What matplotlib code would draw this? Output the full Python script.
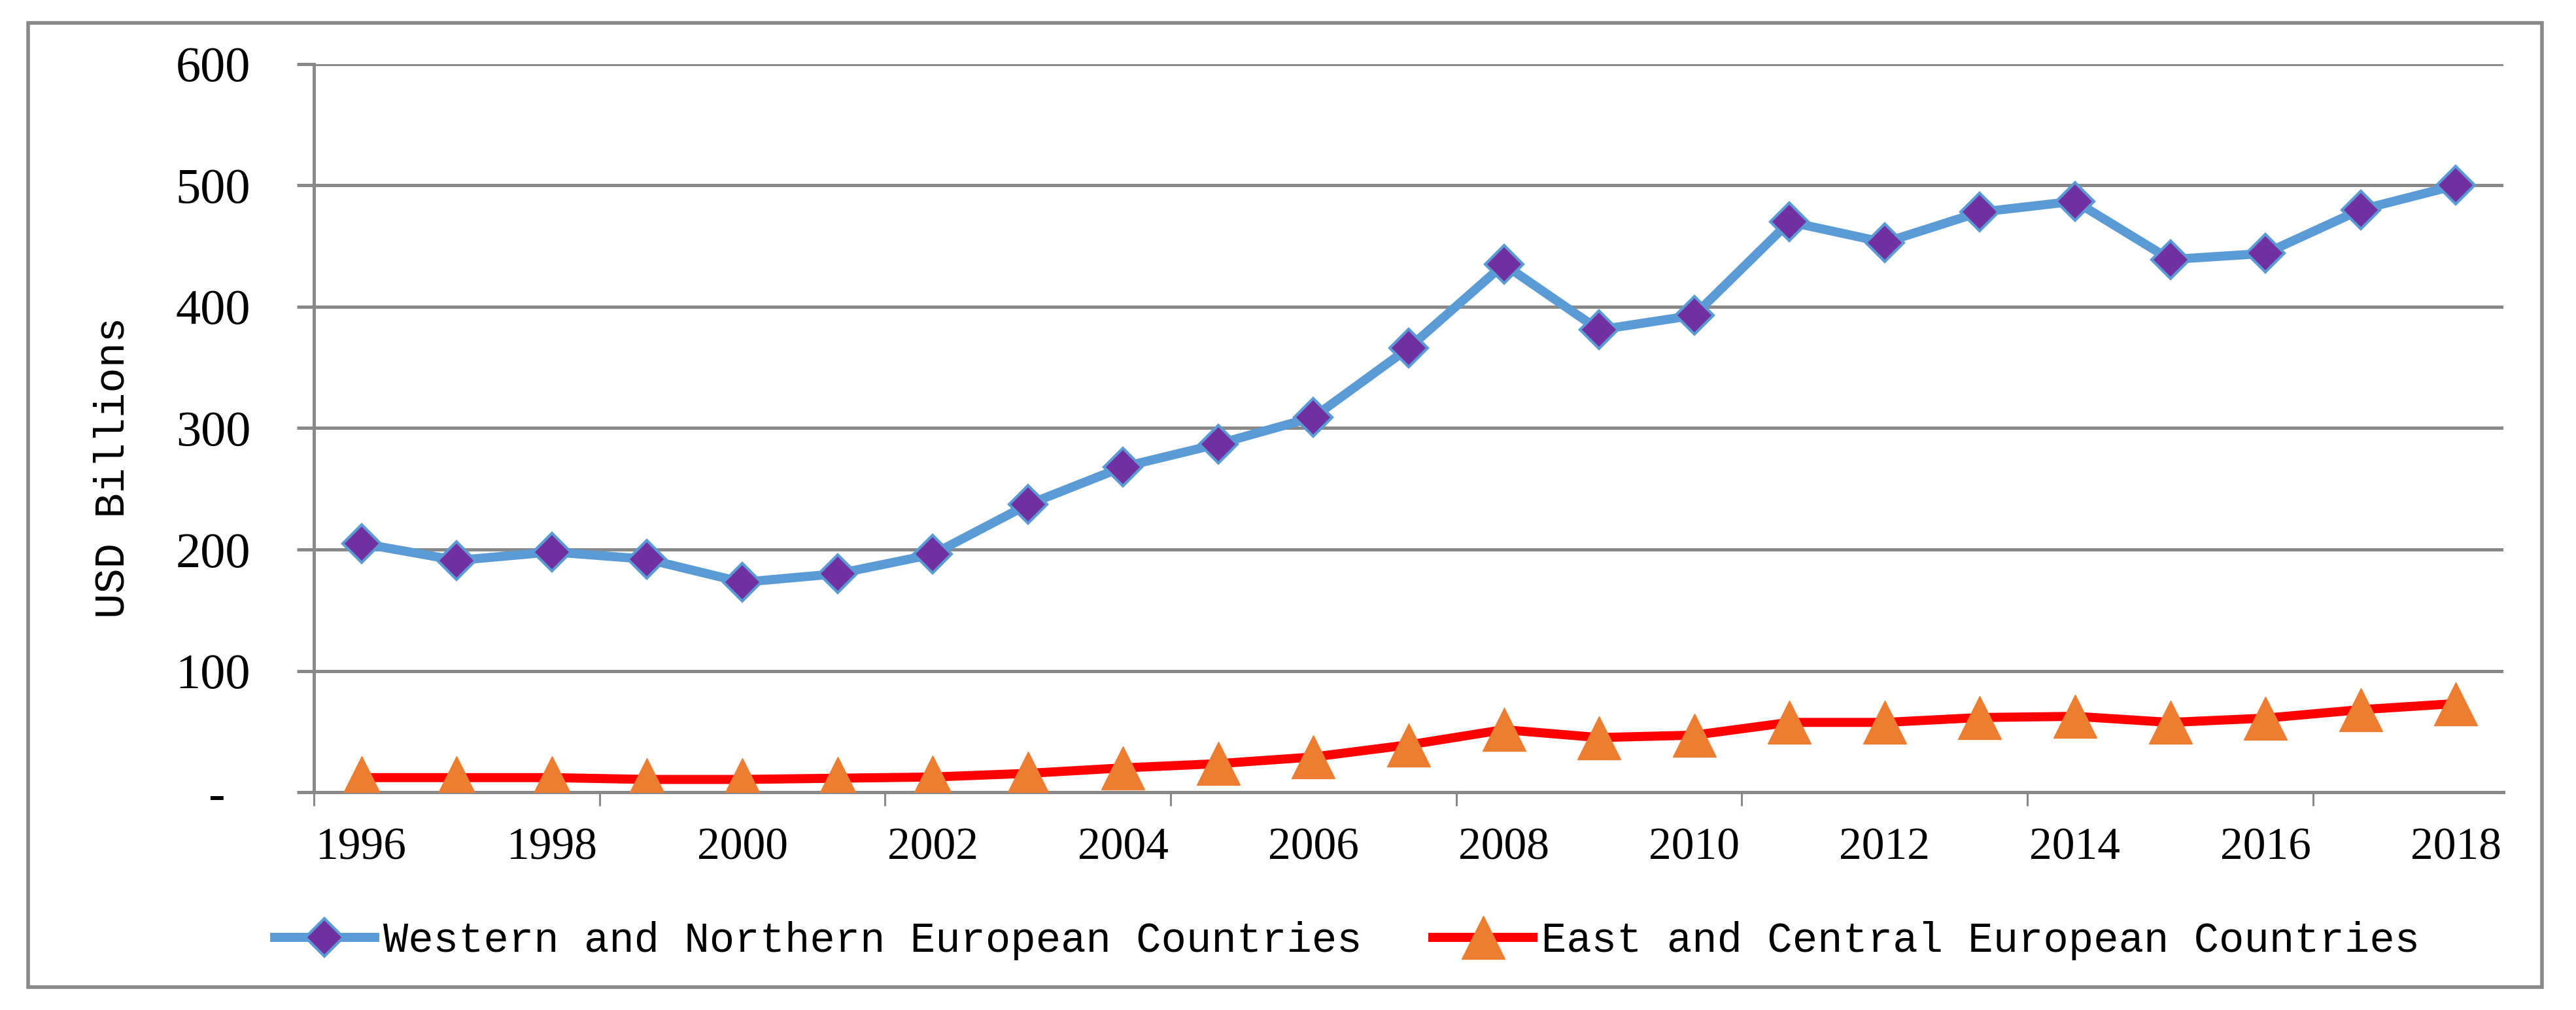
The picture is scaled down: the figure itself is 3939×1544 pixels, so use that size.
import matplotlib
matplotlib.use('Agg')
import matplotlib.pyplot as plt
from matplotlib.patches import Rectangle
from matplotlib.ticker import FixedLocator

years = [str(y) for y in range(1996, 2019)]
west_north = [205, 191, 198, 192, 173, 180, 196, 237, 268, 287, 309, 366,
              435, 381, 393, 470, 453, 478, 487, 439, 444, 480, 500]
east_central = [12, 12, 12, 10.5, 10.5, 11.5, 12.5, 15.5, 20, 23.5, 29, 39,
                51.5, 45, 47, 57.5, 57.5, 61.5, 62.5, 57.5, 61, 68, 73]
y_ticks = [0, 100, 200, 300, 400, 500, 600]
y_tick_labels = ['-  ', '100', '200', '300', '400', '500', '600']
labels = ['Western and Northern European Countries',
          'East and Central European Countries']

W, H = 3939, 1544
GRAY = '#898989'


def plot_chart(outfile):
    fig = plt.figure(figsize=(W / 100, H / 100), dpi=100)
    ax = fig.add_axes([480 / W, 1 - 1211 / H, (3828 - 480) / W, (1211 - 98) / H])

    x = list(range(len(years)))
    ax.plot(x, west_north, color='#5B9BD5', lw=10, marker='D', ms=30,
            mfc='#7030A0', mec='#5B9BD5', mew=3, label=labels[0],
            solid_joinstyle='round', zorder=3)
    ax.plot(x, east_central, color='#FF0000', lw=10, marker='^', ms=47,
            mfc='#ED7D31', mec='#ED7D31', mew=1, label=labels[1],
            solid_joinstyle='round', zorder=3)

    ax.set_xlim(-0.5, len(years) - 0.5)
    ax.set_ylim(0, 600)
    ax.set_yticks(y_ticks)
    ax.set_yticklabels(y_tick_labels, family='Liberation Serif', fontsize=55)

    # labels every second year, tick marks every third category boundary
    ax.set_xticks(x[::2])
    ax.set_xticklabels(years[::2], family='Liberation Serif', fontsize=50)
    ax.xaxis.set_minor_locator(FixedLocator([i - 0.5 for i in range(0, len(years), 3)]))
    ax.tick_params(axis='x', which='major', length=0, pad=39)
    ax.tick_params(axis='x', which='minor', length=15, width=2.2, color=GRAY,
                   direction='out')
    ax.tick_params(axis='y', length=18.7, width=3.6, color=GRAY, pad=51)

    ax.grid(axis='y', color=GRAY, lw=3.6)
    ax.set_axisbelow(True)
    for side in ['top', 'right']:
        ax.spines[side].set_visible(False)
    for side in ['left', 'bottom']:
        ax.spines[side].set_color(GRAY)
        ax.spines[side].set_linewidth(3.6)

    ax.set_ylabel('USD Billions', family='Liberation Mono', fontsize=46,
                  va='center')
    ax.yaxis.set_label_coords(172 / W, 1 - 715 / H, transform=fig.transFigure)

    fig.legend(loc='center', bbox_to_anchor=(2060 / W, 1 - 1438 / H), ncol=2,
               frameon=False, prop={'family': 'Liberation Mono', 'size': 46},
               handlelength=2.4, handletextpad=0.2, columnspacing=1.7)

    fig.patches.append(Rectangle((43 / W, 1 - 1509 / H), (3887 - 43) / W,
                                 (1509 - 35) / H, transform=fig.transFigure,
                                 fill=False, edgecolor=GRAY, lw=4))

    fig.savefig(outfile, dpi=100)


if __name__ == '__main__':
    plot_chart('out.png')
